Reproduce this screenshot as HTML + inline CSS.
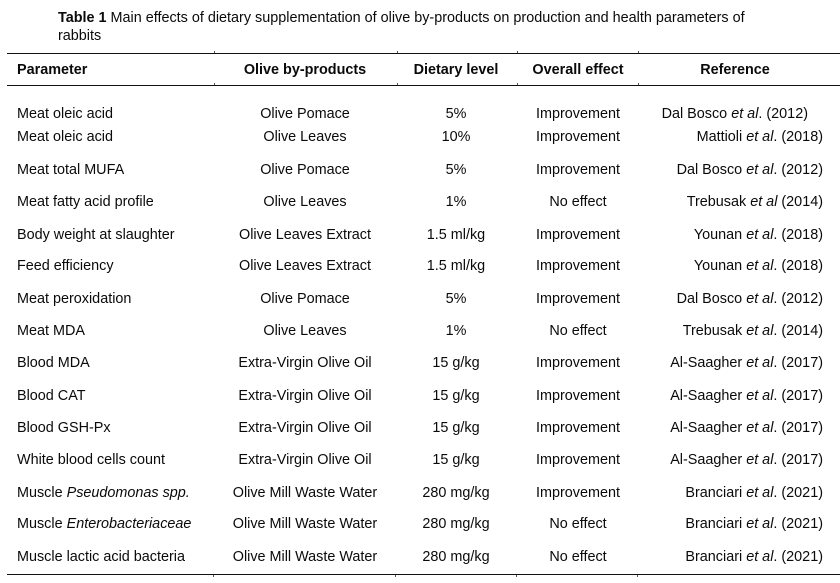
<!DOCTYPE html>
<html>
<head>
<meta charset="utf-8">
<style>
  html, body { margin: 0; padding: 0; background: #fff; }
  body { width: 840px; height: 583px; position: relative; overflow: hidden;
         font-family: "Liberation Sans", Arial, sans-serif; font-size: 14.4px; color: #0a0a0a; }
  .t { position: absolute; line-height: 20px; white-space: nowrap; margin-top: 1px; }
  .c { transform: translateX(-50%); }
  .r { transform: translateX(-100%); }
  .b { font-weight: bold; }
  .rule { position: absolute; left: 7px; width: 833px; height: 1.6px; background: #111; }
  .tick { position: absolute; width: 1px; height: 2px; background: #555; }
  i { font-style: italic; }
</style>
</head>
<body>
<div class="t" style="left:58px; top:8px; line-height:18px;"><span class="b">Table 1</span> Main effects of dietary supplementation of olive by-products on production and health parameters of<br>rabbits</div>

<div class="rule" style="top:52.5px;"></div>
<div class="rule" style="top:84.6px;"></div>
<div class="rule" style="top:573.8px;"></div>

<div class="tick" style="left:214px; top:51px;"></div>
<div class="tick" style="left:397px; top:51px;"></div>
<div class="tick" style="left:517px; top:51px;"></div>
<div class="tick" style="left:638px; top:51px;"></div>
<div class="tick" style="left:214px; top:83px;"></div>
<div class="tick" style="left:397px; top:83px;"></div>
<div class="tick" style="left:517px; top:83px;"></div>
<div class="tick" style="left:638px; top:83px;"></div>
<div class="tick" style="left:213px; top:575px;"></div>
<div class="tick" style="left:395px; top:575px;"></div>
<div class="tick" style="left:516px; top:575px;"></div>
<div class="tick" style="left:637px; top:575px;"></div>

<!-- header -->
<div class="t b" style="left:17px; top:59px;">Parameter</div>
<div class="t b c" style="left:305px; top:59px;">Olive by-products</div>
<div class="t b c" style="left:456px; top:59px;">Dietary level</div>
<div class="t b c" style="left:578px; top:59px;">Overall effect</div>
<div class="t b c" style="left:735px; top:59px;">Reference</div>

<!-- rows -->
<div class="t" style="left:17px; top:102.5px;">Meat oleic acid</div>
<div class="t c" style="left:305px; top:102.5px;">Olive Pomace</div>
<div class="t c" style="left:456px; top:102.5px;">5%</div>
<div class="t c" style="left:578px; top:102.5px;">Improvement</div>
<div class="t r" style="left:808px; top:102.5px;">Dal Bosco <i>et al</i>. (2012)</div>

<div class="t" style="left:17px; top:125.5px;">Meat oleic acid</div>
<div class="t c" style="left:305px; top:125.5px;">Olive Leaves</div>
<div class="t c" style="left:456px; top:125.5px;">10%</div>
<div class="t c" style="left:578px; top:125.5px;">Improvement</div>
<div class="t r" style="left:823px; top:125.5px;">Mattioli <i>et al</i>. (2018)</div>

<div class="t" style="left:17px; top:159px;">Meat total MUFA</div>
<div class="t c" style="left:305px; top:159px;">Olive Pomace</div>
<div class="t c" style="left:456px; top:159px;">5%</div>
<div class="t c" style="left:578px; top:159px;">Improvement</div>
<div class="t r" style="left:823px; top:159px;">Dal Bosco <i>et al</i>. (2012)</div>

<div class="t" style="left:17px; top:191px;">Meat fatty acid profile</div>
<div class="t c" style="left:305px; top:191px;">Olive Leaves</div>
<div class="t c" style="left:456px; top:191px;">1%</div>
<div class="t c" style="left:578px; top:191px;">No effect</div>
<div class="t r" style="left:823px; top:191px;">Trebusak <i>et al</i> (2014)</div>

<div class="t" style="left:17px; top:223.5px;">Body weight at slaughter</div>
<div class="t c" style="left:305px; top:223.5px;">Olive Leaves Extract</div>
<div class="t c" style="left:456px; top:223.5px;">1.5 ml/kg</div>
<div class="t c" style="left:578px; top:223.5px;">Improvement</div>
<div class="t r" style="left:823px; top:223.5px;">Younan <i>et al</i>. (2018)</div>

<div class="t" style="left:17px; top:255px;">Feed efficiency</div>
<div class="t c" style="left:305px; top:255px;">Olive Leaves Extract</div>
<div class="t c" style="left:456px; top:255px;">1.5 ml/kg</div>
<div class="t c" style="left:578px; top:255px;">Improvement</div>
<div class="t r" style="left:823px; top:255px;">Younan <i>et al</i>. (2018)</div>

<div class="t" style="left:17px; top:288px;">Meat peroxidation</div>
<div class="t c" style="left:305px; top:288px;">Olive Pomace</div>
<div class="t c" style="left:456px; top:288px;">5%</div>
<div class="t c" style="left:578px; top:288px;">Improvement</div>
<div class="t r" style="left:823px; top:288px;">Dal Bosco <i>et al</i>. (2012)</div>

<div class="t" style="left:17px; top:319.5px;">Meat MDA</div>
<div class="t c" style="left:305px; top:319.5px;">Olive Leaves</div>
<div class="t c" style="left:456px; top:319.5px;">1%</div>
<div class="t c" style="left:578px; top:319.5px;">No effect</div>
<div class="t r" style="left:823px; top:319.5px;">Trebusak <i>et al</i>. (2014)</div>

<div class="t" style="left:17px; top:352px;">Blood MDA</div>
<div class="t c" style="left:305px; top:352px;">Extra-Virgin Olive Oil</div>
<div class="t c" style="left:456px; top:352px;">15 g/kg</div>
<div class="t c" style="left:578px; top:352px;">Improvement</div>
<div class="t r" style="left:823px; top:352px;">Al-Saagher <i>et al</i>. (2017)</div>

<div class="t" style="left:17px; top:384.5px;">Blood CAT</div>
<div class="t c" style="left:305px; top:384.5px;">Extra-Virgin Olive Oil</div>
<div class="t c" style="left:456px; top:384.5px;">15 g/kg</div>
<div class="t c" style="left:578px; top:384.5px;">Improvement</div>
<div class="t r" style="left:823px; top:384.5px;">Al-Saagher <i>et al</i>. (2017)</div>

<div class="t" style="left:17px; top:417px;">Blood GSH-Px</div>
<div class="t c" style="left:305px; top:417px;">Extra-Virgin Olive Oil</div>
<div class="t c" style="left:456px; top:417px;">15 g/kg</div>
<div class="t c" style="left:578px; top:417px;">Improvement</div>
<div class="t r" style="left:823px; top:417px;">Al-Saagher <i>et al</i>. (2017)</div>

<div class="t" style="left:17px; top:449px;">White blood cells count</div>
<div class="t c" style="left:305px; top:449px;">Extra-Virgin Olive Oil</div>
<div class="t c" style="left:456px; top:449px;">15 g/kg</div>
<div class="t c" style="left:578px; top:449px;">Improvement</div>
<div class="t r" style="left:823px; top:449px;">Al-Saagher <i>et al</i>. (2017)</div>

<div class="t" style="left:17px; top:481.5px;">Muscle <i>Pseudomonas spp.</i></div>
<div class="t c" style="left:305px; top:481.5px;">Olive Mill Waste Water</div>
<div class="t c" style="left:456px; top:481.5px;">280 mg/kg</div>
<div class="t c" style="left:578px; top:481.5px;">Improvement</div>
<div class="t r" style="left:823px; top:481.5px;">Branciari <i>et al</i>. (2021)</div>

<div class="t" style="left:17px; top:513px;">Muscle <i>Enterobacteriaceae</i></div>
<div class="t c" style="left:305px; top:513px;">Olive Mill Waste Water</div>
<div class="t c" style="left:456px; top:513px;">280 mg/kg</div>
<div class="t c" style="left:578px; top:513px;">No effect</div>
<div class="t r" style="left:823px; top:513px;">Branciari <i>et al</i>. (2021)</div>

<div class="t" style="left:17px; top:546px;">Muscle lactic acid bacteria</div>
<div class="t c" style="left:305px; top:546px;">Olive Mill Waste Water</div>
<div class="t c" style="left:456px; top:546px;">280 mg/kg</div>
<div class="t c" style="left:578px; top:546px;">No effect</div>
<div class="t r" style="left:823px; top:546px;">Branciari <i>et al</i>. (2021)</div>
</body>
</html>
